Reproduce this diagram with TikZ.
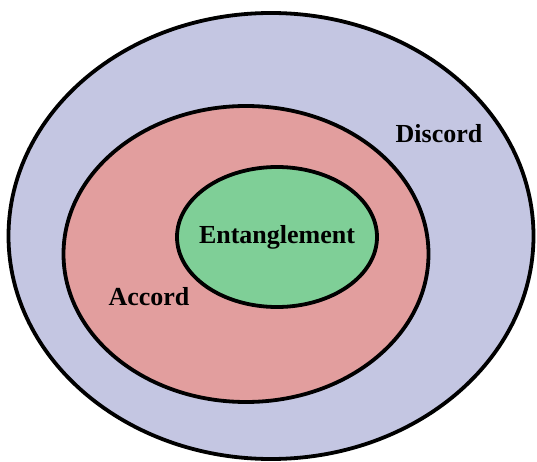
\documentclass[tikz,border=0pt]{standalone}
\usepackage{fontspec}
\setmainfont{Liberation Serif}
\usetikzlibrary{shapes.geometric}
\definecolor{discordcol}{RGB}{196,198,226}
\definecolor{accordcol}{RGB}{226,158,158}
\definecolor{entcol}{RGB}{127,207,151}
\begin{document}
\begin{tikzpicture}[x=1pt, y=-1pt]
\useasboundingbox (0,0) rectangle (537,462);

\begin{scope}[every node/.style={ellipse,draw=black,line width=3.8pt,inner sep=0pt}]
    \node (discord) at (271, 236) [fill=discordcol, minimum width=525pt, minimum height=446pt] {};
    \node (accord) at (246, 254) [fill=accordcol, minimum width=365pt, minimum height=296pt] {};
    \node (ent) at (277, 237) [fill=entcol, minimum width=200pt, minimum height=140pt] {};
\end{scope}

\begin{scope}[every node/.style={font=\bfseries\fontsize{26}{30}\selectfont}]
    \node (enttext) at (ent) {Entanglement};
    \node (discordtext) at (439, 134) {Discord};
    \node (accordtext) at (149, 297) {Accord};
\end{scope}
\end{tikzpicture}
\end{document}
